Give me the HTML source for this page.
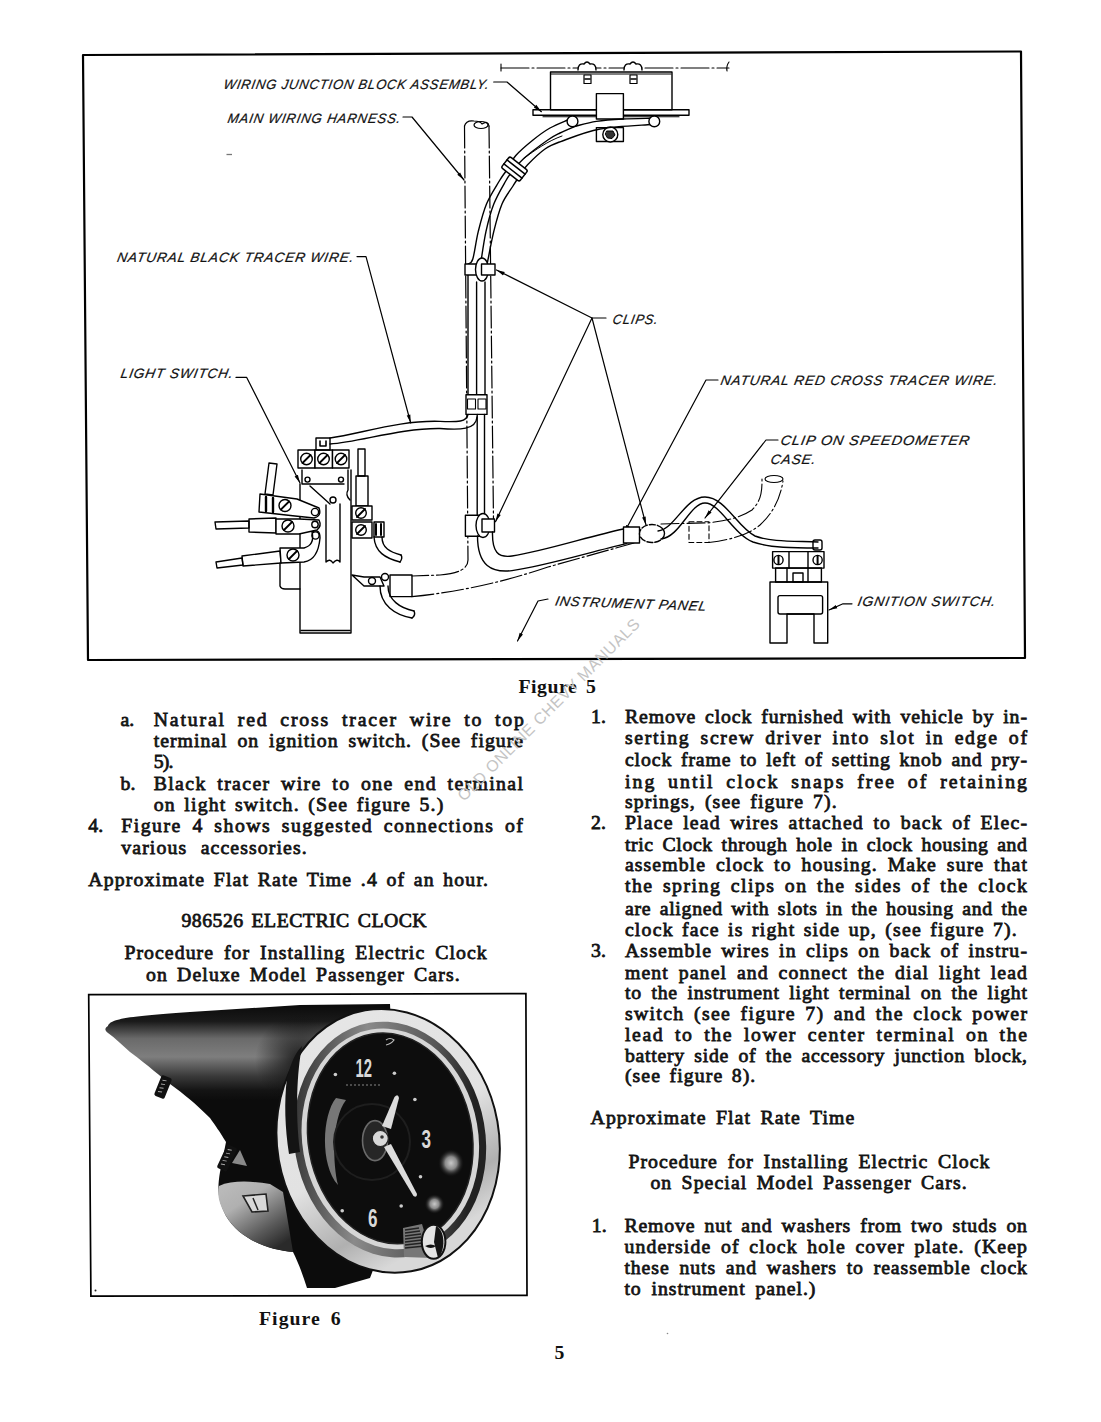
<!DOCTYPE html>
<html><head><meta charset="utf-8"><style>
html,body{margin:0;padding:0;background:#fff;}
body{width:1101px;height:1422px;overflow:hidden;}
svg{display:block;}
.t{font-family:"Liberation Serif",serif;font-weight:normal;font-size:19px;fill:#141414;stroke:#141414;stroke-width:0.75px;}
.tb{font-family:"Liberation Serif",serif;font-weight:bold;font-size:19px;fill:#111;}
.lb{font-family:"Liberation Sans",sans-serif;font-style:italic;font-size:13.5px;fill:#111;stroke:#111;stroke-width:0.2px;letter-spacing:0.8px;}
.wm{font-family:"Liberation Sans",sans-serif;font-size:16px;fill:#c4c4c4;}
</style></head><body>
<svg width="1101" height="1422" viewBox="0 0 1101 1422">
<rect width="1101" height="1422" fill="#fff"/>
<defs>
<marker id="ar" viewBox="0 0 10 6" refX="10" refY="3" markerWidth="9" markerHeight="5" orient="auto" markerUnits="userSpaceOnUse"><path d="M0,0.8 L10,3 L0,5.2 z" fill="#000"/></marker>
</defs>
<g fill="none" stroke="#000" stroke-linecap="round" stroke-linejoin="round">
<!-- frame -->
<polygon points="83,55 1021,51.5 1025,658 88,660" stroke-width="2.2"/>

<!-- leaders -->
<g stroke-width="1.2">
<path d="M493.7,82 H507 L541.4,111.7" marker-end="url(#ar)"/>
<path d="M403,117 H412 L464,180" marker-end="url(#ar)"/>
<path d="M357,256.6 H366 L410.7,423" marker-end="url(#ar)"/>
<path d="M236,377.4 H246.7 L300,483" marker-end="url(#ar)"/>
<path d="M606,318 H592 L496.5,270" marker-end="url(#ar)"/>
<path d="M592,318 L495.5,521.7" marker-end="url(#ar)"/>
<path d="M592,318 L646,525" marker-end="url(#ar)"/>
<path d="M718,380 H706 L624,533" marker-end="url(#ar)"/>
<path d="M778,440 H766 L705,518" marker-end="url(#ar)"/>
<path d="M548,599 L538,601 L517.5,641" marker-end="url(#ar)"/>
<path d="M852,603.8 H843 L829,610" marker-end="url(#ar)"/>
</g>

<!-- junction block assembly -->
<g stroke-width="1.4">
<path d="M501,68 H729" stroke-dasharray="28,3,2,3" stroke-width="1.1"/>
<path d="M501,64 V71" stroke-width="1.1"/>
<path d="M729,62 Q726,66 727,71" stroke-width="1.1"/>
<rect x="550.5" y="72" width="121.5" height="37.8"/>
<path d="M551,74 H671" stroke-width="1.1"/>
<rect x="533" y="109.8" width="156" height="5.4"/>
<path d="M543,116.8 H679" stroke-width="1.1"/>
<path d="M578,70 Q578,63 584,64 Q587,60 590,64 Q596,63 596,70" fill="#fff"/>
<path d="M624,70 Q624,63 630,64 Q633,60 636,64 Q642,63 642,70" fill="#fff"/>
<rect x="584" y="75" width="7" height="8.5" stroke-width="1.2"/>
<path d="M585,79 H590" stroke-width="1.6"/>
<rect x="630" y="75" width="7" height="8.5" stroke-width="1.2"/>
<path d="M631,79 H636" stroke-width="1.6"/>
<rect x="596.4" y="93.6" width="27" height="25.4" fill="#fff"/>
<rect x="596.4" y="127.6" width="27" height="13.9"/>
<circle cx="610.3" cy="134.5" r="7.5" fill="#fff"/>
<path d="M607,131 L613,131 L615,135 L612,138.5 L607.5,138 L605.5,134.5 Z" fill="#333" stroke-width="1"/>
</g>
<!-- main harness phantom -->
<g stroke-width="1.2" stroke-dasharray="22,3,2,3">
<path d="M464.5,126 L468,560 Q468,573 440,575 L412,576"/>
<path d="M489,126 L493.5,521"/>
<path d="M412,596.6 Q480,590 548,567 L634,543"/>
</g>
<path d="M464.5,126 Q466,120 474,121 Q480,121 482,124 Q488,120 489,126" stroke-width="1.2"/>
<ellipse cx="481" cy="125" rx="7" ry="3.5" stroke-width="1.2"/>

<!-- wire bundle upper arc -->
<g stroke-width="1.4">
<path d="M468.0,264.0 C468.8,263.2 471.1,264.4 472.8,259.0 C474.5,253.6 476.0,240.6 478.3,231.4 C480.6,222.2 483.0,212.4 486.5,204.0 C490.0,195.6 496.1,186.5 499.3,181.0 C502.6,175.5 503.2,175.2 506.0,171.0 C508.8,166.8 511.3,160.7 515.8,155.5 C520.3,150.3 527.3,144.6 533.0,140.0 C538.7,135.4 544.2,131.3 550.0,128.0 C555.8,124.7 564.6,121.3 567.5,120.0"/>
<path d="M480.6,264.0 C481.5,258.6 483.8,241.4 486.0,231.4 C488.2,221.4 490.5,212.4 493.8,204.0 C497.1,195.6 502.7,186.3 505.7,181.0 C508.7,175.7 508.9,175.8 512.0,172.0 C515.0,168.2 518.0,163.6 524.0,158.3 C530.0,153.0 541.8,144.2 547.8,140.0 C553.8,135.8 555.3,135.3 560.0,133.0 C564.7,130.7 573.3,127.2 576.0,126.0"/>
<path d="M487.4,262.5 C488.5,257.3 491.4,241.2 493.8,231.4 C496.2,221.7 498.8,211.6 502.0,204.0 C505.2,196.4 510.0,190.8 513.0,186.0 C516.0,181.2 517.6,178.6 520.0,175.0 C522.4,171.4 523.4,169.0 527.6,164.7 C531.8,160.4 539.6,152.8 545.0,149.0 C550.4,145.2 550.8,145.1 560.0,141.8 C569.2,138.5 584.8,131.9 600.0,129.0 C615.2,126.1 642.5,125.2 651.0,124.5"/>
<path d="M576.3,126.0 C579.6,125.2 588.7,122.6 596.4,121.4 C604.1,120.2 613.6,119.5 622.6,119.0 C631.6,118.5 645.8,118.4 650.4,118.3"/>
<path d="M524,158.3 C535,150 548,141 562,136" stroke-width="1"/>
<circle cx="572.5" cy="121.4" r="5.4" fill="#fff"/>
<circle cx="654.3" cy="121.4" r="5.4" fill="#fff"/>
<g transform="translate(514.5,169) rotate(-52)">
<rect x="-7" y="-11.5" width="14" height="23" rx="2" fill="#fff" stroke-width="1.5"/>
<path d="M-2.5,-11.5 V11.5 M2.5,-11.5 V11.5" stroke-width="1.5"/>
</g>
<!-- vertical wires between clips -->
<path d="M468,275 V395 M476.6,282 V395 M485,282 V395"/>
<!-- clip1 -->
<rect x="465" y="264" width="17" height="11" fill="#fff"/>
<ellipse cx="482" cy="269.5" rx="6.5" ry="11.5" fill="#fff"/>
<rect x="481.5" y="264" width="13.5" height="11" fill="#fff"/>
<!-- clip2 -->
<rect x="466" y="394.7" width="21" height="19.7" fill="#fff"/>
<rect x="467.5" y="399" width="8" height="10" stroke-width="1.1"/>
<rect x="478" y="399" width="8" height="10" stroke-width="1.1"/>
<!-- black tracer wire to light switch -->
<path d="M468,414.4 C467,422 458,422 440,421.4 C400,420 360,434 330,438"/>
<path d="M477,417 C476,430 460,430 440,428.5 C400,428 360,442 330,444"/>
<!-- lower vertical -->
<path d="M477.2,414.4 V515 M484.5,414.4 V515"/>
<!-- lower clip -->
<rect x="465.4" y="515.3" width="17" height="21" fill="#fff"/>
<ellipse cx="483" cy="525.5" rx="7" ry="12" fill="#fff"/>
<rect x="482" y="519" width="12.5" height="13" fill="#fff"/>
<!-- lower bend to right -->
<path d="M477.5,536 C477.5,566 492,573 512,570.6 C545,566 590,552 626.5,543.6"/>
<path d="M492.5,532 C492,552 498,558 512,556 C545,551 590,536 623.4,529"/>
<!-- clip at 640 -->
<rect x="623.5" y="527" width="16" height="16" fill="#fff"/>
<ellipse cx="652" cy="533.5" rx="12.5" ry="9" fill="#fff" stroke-dasharray="6,2"/>
<!-- single wire loop to ignition switch -->
<path d="M658,531 C675,529 685,497 705,497 C725,497 738,528 755,536 C770,542 795,541 818,542"/>
<path d="M661,539 C680,537 690,503 705,503 C720,503 733,534 753,542 C770,548 795,548 818,548"/>
<rect x="813" y="540" width="9" height="10" rx="2"/>
</g>
<!-- clip on speedometer dashed + phantom -->
<g stroke-width="1.1" stroke-dasharray="5,3">
<rect x="689" y="521.7" width="20" height="20.8"/>
</g>
<g stroke-width="1.1" stroke-dasharray="18,3,2,3">
<path d="M661,524 L709,522.8 C725,521 740,518 752,510 C762,500 762,490 762,479"/>
<path d="M709,542.5 C730,540 748,535 760,525 C772,514 780,500 783,481"/>
</g>
<ellipse cx="774" cy="479" rx="9" ry="3.5" stroke-width="1.1"/>

<!-- ignition switch -->
<g stroke-width="1.4">
<rect x="772.6" y="551.6" width="51.4" height="16.5"/>
<path d="M789,551.6 V568 M808,551.6 V568"/>
<circle cx="778.5" cy="560" r="4.6"/><path d="M778.5,556 V564" stroke-width="2"/>
<circle cx="817.6" cy="560" r="4.6"/><path d="M817.6,556 V564" stroke-width="2"/>
<rect x="775.6" y="568" width="45.8" height="14"/>
<path d="M787,568 V582 M808,568 V582 M793,573 H803 V582 H793 z"/>
<path d="M770,643 V582 H827.7 V643 H814 V614 H787 V643 z"/>
<rect x="778" y="595.6" width="44.6" height="18.4" rx="2"/>
</g>

<!-- light switch -->
<g stroke-width="1.4">
<path d="M300,484 V633 H351 V470"/>
<path d="M301,630.5 H350"/>
<rect x="298" y="450" width="17" height="18" fill="#fff"/>
<rect x="315" y="450" width="17.5" height="18" fill="#fff"/>
<rect x="332.5" y="450" width="16.5" height="18" fill="#fff"/>
<circle cx="306.5" cy="459" r="5.8"/><path d="M302.5,463 L310.5,455" stroke-width="1.8"/>
<circle cx="323.5" cy="459" r="5.8"/><path d="M319.5,463 L327.5,455" stroke-width="1.8"/>
<circle cx="341" cy="459" r="5.8"/><path d="M337,463 L345,455" stroke-width="1.8"/>
<rect x="316" y="438" width="14" height="12"/>
<path d="M320,441 V446 H326 V441" stroke-width="1.6"/>
<path d="M302,484 H344 M302,470 V484 M348,470 V490 Q345,495 350,500"/>
<circle cx="307.5" cy="479.6" r="2.5"/>
<circle cx="341" cy="479.6" r="2.5"/>
<path d="M310,486 L330,504"/>
<circle cx="333" cy="500" r="3"/>
<path d="M326,505 V562 Q330,558 333,563 Q337,558 340,562 V504"/>
<!-- left rod + clamp 1 -->
<path d="M269,463 L277,464 L273,495 L265,494 z"/>
<path d="M260,494 L297,499 L319,508 Q322,516 314,518 L295,516 L259,512 z" fill="#fff"/>
<path d="M266,497 V511 M273,498 V512" stroke-width="2.4"/>
<circle cx="285" cy="505.5" r="6"/><path d="M281,509.5 L289,501.5" stroke-width="1.8"/>
<circle cx="315" cy="512" r="3.6"/>
<!-- middle wire -->
<path d="M215,522 L249,521 L249,528 L216,529 z"/>
<path d="M249,519 L276,518 L276,533 L249,532 z"/>
<path d="M276,519 H299 L319,520 Q322,526 317,530 L299,534 H276 z" fill="#fff"/>
<circle cx="288" cy="526" r="6"/><path d="M284,530 L292,522" stroke-width="1.8"/>
<circle cx="315" cy="524.5" r="3.2"/>
<!-- lower wire -->
<path d="M216,562 L242,558 L243,565 L217,568 z"/>
<path d="M242,556 L280,551 L281,563 L243,566 z"/>
<path d="M280,548 L304,548 Q315,545 312,532 Q320,528 320,538 Q318,560 304,562 L281,563 z" fill="#fff"/>
<circle cx="293" cy="555" r="6"/><path d="M289,559 L297,551" stroke-width="1.8"/>
<circle cx="315.5" cy="535.5" r="3.6"/>
<path d="M280,563 V586 Q281,589 285,589 H300"/>
<!-- right rod -->
<rect x="358" y="449" width="7" height="27"/>
<rect x="356" y="476" width="12" height="30"/>
<rect x="352" y="506" width="20" height="14" fill="#fff"/>
<circle cx="361" cy="513" r="5.3"/><path d="M357,517 L365,509" stroke-width="1.8"/>
<rect x="352" y="522" width="20" height="16" fill="#fff"/>
<circle cx="361" cy="530" r="5.3"/><path d="M357,534 L365,526" stroke-width="1.8"/>
<rect x="374" y="522" width="10" height="15"/>
<path d="M376,524 V535 M381,524 V535" stroke-width="2"/>
<path d="M374,537 C375,552 385,558 400,562 M382,537 C382,548 390,552 401,555"/>
<path d="M400,562 Q403,558 401,555"/>
<!-- lower right connector -->
<path d="M352,575 L364,577 H380 L384,586 H364 Z"/>
<circle cx="372" cy="581" r="3.5"/>
<circle cx="385" cy="577" r="3.5"/>
<rect x="390" y="575" width="22" height="21.6"/>
<path d="M380,586 C380,605 395,615 412,618 M388,586 C388,600 400,608 414,611"/>
<path d="M412,618 Q416,615 414,611"/>
</g>
</g>

<!-- labels -->
<g class="lb">
<text transform="translate(223,89) skewX(-10)" x="0" y="0" textLength="266" lengthAdjust="spacingAndGlyphs">WIRING JUNCTION BLOCK ASSEMBLY.</text>
<text transform="translate(227,122.5) skewX(-10)" x="0" y="0" textLength="173.6" lengthAdjust="spacingAndGlyphs">MAIN WIRING HARNESS.</text>
<text transform="translate(116.6,262.4) skewX(-10)" x="0" y="0" textLength="237" lengthAdjust="spacingAndGlyphs">NATURAL BLACK TRACER WIRE.</text>
<text transform="translate(120,378) skewX(-10)" x="0" y="0" textLength="113" lengthAdjust="spacingAndGlyphs">LIGHT SWITCH.</text>
<text transform="translate(612,324) skewX(-10)" x="0" y="0" textLength="46" lengthAdjust="spacingAndGlyphs">CLIPS.</text>
<text transform="translate(720,384.7) skewX(-10)" x="0" y="0" textLength="277.7" lengthAdjust="spacingAndGlyphs">NATURAL RED CROSS TRACER WIRE.</text>
<text transform="translate(780,444.7) skewX(-10)" x="0" y="0" textLength="189.7" lengthAdjust="spacingAndGlyphs">CLIP ON SPEEDOMETER</text>
<text transform="translate(770,463.9) skewX(-10)" x="0" y="0" textLength="45.8" lengthAdjust="spacingAndGlyphs">CASE.</text>
<text transform="translate(554.4,605.5) rotate(2) skewX(-10)" x="0" y="0" textLength="152" lengthAdjust="spacingAndGlyphs">INSTRUMENT PANEL</text>
<text transform="translate(857,606.3) skewX(-10)" x="0" y="0" textLength="138.6" lengthAdjust="spacingAndGlyphs">IGNITION SWITCH.</text>
</g>
<path d="M226.5,154.5 H232" stroke="#777" stroke-width="1.3" fill="none"/>
<circle cx="667.5" cy="1333.5" r="0.8" fill="#888"/>
<circle cx="95.5" cy="1290.5" r="1" fill="#222"/>

<defs>
<linearGradient id="shellg" gradientUnits="userSpaceOnUse" x1="0" y1="1004" x2="0" y2="1100">
<stop offset="0" stop-color="#0a0a0a"/>
<stop offset="0.18" stop-color="#1a1a1a"/>
<stop offset="0.36" stop-color="#6a6a6a"/>
<stop offset="0.55" stop-color="#7e7e7e"/>
<stop offset="0.75" stop-color="#3a3a3a"/>
<stop offset="0.9" stop-color="#141414"/>
<stop offset="1" stop-color="#0c0c0c"/>
</linearGradient>
<radialGradient id="shellshade" gradientUnits="userSpaceOnUse" cx="300" cy="1060" r="45">
<stop offset="0" stop-color="#0c0c0c" stop-opacity="0.85"/>
<stop offset="1" stop-color="#0c0c0c" stop-opacity="0"/>
</radialGradient>
<linearGradient id="brg" x1="0" y1="0" x2="0.7" y2="1">
<stop offset="0" stop-color="#bdbdbd"/>
<stop offset="0.35" stop-color="#b0b0b0"/>
<stop offset="0.75" stop-color="#5a5a5a"/>
<stop offset="1" stop-color="#2a2a2a"/>
</linearGradient>
<radialGradient id="knobg" cx="0.6" cy="0.45" r="0.6">
<stop offset="0" stop-color="#fff"/>
<stop offset="0.5" stop-color="#cfcfcf"/>
<stop offset="1" stop-color="#444"/>
</radialGradient>
<radialGradient id="spotg" cx="0.5" cy="0.5" r="0.5">
<stop offset="0" stop-color="#c8c8c8"/>
<stop offset="0.45" stop-color="#8a8a8a"/>
<stop offset="1" stop-color="#111" stop-opacity="0"/>
</radialGradient>
<linearGradient id="ringA" x1="0" y1="0" x2="0.3" y2="1">
<stop offset="0" stop-color="#e6e6e6"/>
<stop offset="0.6" stop-color="#e2e2e2"/>
<stop offset="0.85" stop-color="#b0b0b0"/>
<stop offset="1" stop-color="#d8d8d8"/>
</linearGradient>
<linearGradient id="ringB" x1="0" y1="0" x2="1" y2="0.3">
<stop offset="0" stop-color="#1a1a1a"/>
<stop offset="0.45" stop-color="#8a8a8a"/>
<stop offset="0.8" stop-color="#555"/>
<stop offset="1" stop-color="#222"/>
</linearGradient>
</defs>
<!-- frame -->
<polygon points="88.7,994.7 525.9,993.6 527,1295.3 90.9,1296.1" fill="none" stroke="#000" stroke-width="1.7"/>
<!-- shell -->
<path d="M108,1026 C110,1018 135,1016 190,1012 L300,1005 L390,1004 L400,1200 L370,1278 L335,1288 L307,1288 C303,1275 298,1262 293,1252 C270,1250 240,1240 226,1216 C218,1200 217,1190 220,1172 L226,1142 C220,1132 215,1125 210,1118 C195,1103 185,1095 170,1084 C160,1076 150,1067 130,1052 C122,1045 115,1038 108,1033 C104,1030 105,1028 108,1026 Z" fill="url(#shellg)"/>
<ellipse cx="300" cy="1060" rx="45" ry="60" fill="url(#shellshade)"/>
<!-- bracket -->
<path d="M219,1186 C232,1180 252,1181 270,1184 L283,1192 L293,1252 C270,1250 240,1240 226,1216 C219,1204 217,1195 219,1186 Z" fill="url(#brg)"/>
<path d="M243,1196 L266,1194 L268,1211 L252,1212 Z" fill="#d8d8d8" stroke="#222" stroke-width="1.6"/>
<path d="M253,1198 L258,1210" stroke="#222" stroke-width="1.5"/>
<path d="M232,1163 L240,1150 L247,1166 Z" fill="#8a8a8a"/>
<!-- studs -->
<g transform="translate(163,1087) rotate(22)"><rect x="-5.5" y="-11" width="11" height="22" rx="2" fill="#111"/><path d="M-3,-6 l4,-1 M-3,-2 l4,-1 M-3,2 l4,-1 M-3,6 l4,-1" stroke="#aaa" stroke-width="0.9"/></g>
<g transform="translate(227,1158) rotate(25)"><rect x="-5.5" y="-13" width="11" height="26" rx="2" fill="#111"/><path d="M-3,-8 l4,-1 M-3,-4 l4,-1 M-3,0 l4,-1 M-3,4 l4,-1 M-3,8 l4,-1" stroke="#aaa" stroke-width="0.9"/></g>
<!-- ring -->
<g transform="rotate(-10 390 1140)">
<ellipse cx="388" cy="1140.5" rx="111" ry="132.5" fill="url(#ringA)" stroke="#111" stroke-width="2"/>
<ellipse cx="390" cy="1139.5" rx="95.5" ry="118.5" fill="url(#ringB)"/>
<ellipse cx="390.5" cy="1139" rx="88" ry="111" fill="#d6d6d6"/>
<ellipse cx="390.5" cy="1138.5" rx="82" ry="106" fill="#0d0d0d" stroke="#222" stroke-width="1.5"/>
</g>
<path d="M287,1078 C291,1062 296,1052 302,1046 C297,1072 295,1112 300,1152 L289,1154 C285,1128 284,1102 287,1078 Z" fill="#141414"/>
<!-- face details -->
<path d="M336,1098 C322,1115 320,1165 338,1185 C333,1165 331,1120 346,1100 Z" fill="#777"/>
<circle cx="372" cy="1142" r="38" fill="none" stroke="#1e1e1e" stroke-width="2"/>
<ellipse cx="451" cy="1163" rx="13" ry="14" fill="url(#spotg)"/>
<ellipse cx="434.5" cy="1204" rx="10" ry="10" fill="url(#spotg)"/>
<g fill="#d8d8d8" font-family="Liberation Sans, sans-serif" font-weight="bold">
<text x="355.5" y="1077" font-size="26" textLength="16.5" lengthAdjust="spacingAndGlyphs">12</text>
<text x="421.5" y="1147.5" font-size="25" textLength="9.5" lengthAdjust="spacingAndGlyphs">3</text>
<text x="368" y="1226.5" font-size="25" textLength="9.5" lengthAdjust="spacingAndGlyphs">6</text>
</g>
<g fill="#ccc">
<circle cx="335.4" cy="1074.5" r="1.8"/><circle cx="394.4" cy="1073.3" r="1.8"/>
<circle cx="414.9" cy="1099.5" r="1.8"/><circle cx="420.5" cy="1176.7" r="1.8"/>
<circle cx="401.2" cy="1206" r="1.8"/><circle cx="342.2" cy="1210.7" r="1.8"/>
</g>
<path d="M346,1085 H380" stroke="#888" stroke-width="1.2" stroke-dasharray="2,2"/>
<path d="M386,1040 q4,-3 8,0 q-3,4 -8,5" fill="none" stroke="#bbb" stroke-width="1.2"/>
<!-- hub & hands -->
<ellipse cx="375" cy="1140.6" rx="12.5" ry="20" fill="#262626" stroke="#6a6a6a" stroke-width="1.6"/>
<path d="M382,1126 L394.5,1097 Q398,1093 399,1098 L391,1129 Z" fill="#dcdcdc"/>
<path d="M384,1147 L391,1144 L417,1194 Q417,1198 413.5,1196 Z" fill="#dcdcdc"/>
<circle cx="380.3" cy="1138.5" r="8" fill="#d8d8d8" stroke="#222" stroke-width="1.2"/>
<circle cx="382" cy="1137" r="1.8" fill="#333"/>
<!-- knob -->
<path d="M403,1228 L422,1224 L432,1258 L404,1257 Z" fill="#777"/>
<path d="M405,1230 l14,-2 m-14,5 l15,-2 m-15,5 l16,-2 m-16,5 l16,-2 m-16,5 l17,-2 m-17,5 l18,-2 m-18,5 l20,-2" stroke="#222" stroke-width="1.3"/>
<ellipse cx="433.6" cy="1241.8" rx="11.8" ry="17" fill="#e4e4e4" stroke="#111" stroke-width="2"/>
<path d="M436,1226 C445,1230 446,1250 438,1258 L434,1242 Z" fill="#141414"/>
<path d="M425,1246 Q431,1243 436,1246 Q431,1250 425,1246 Z" fill="#111"/>

<text transform="translate(518.4,692.9) scale(1.04,1)" class="tb" style="word-spacing:2.89px" textLength="74.4" lengthAdjust="spacing">Figure 5</text>
<text transform="translate(120.6,725.5) scale(1.04,1)" class="t">a.</text>
<text transform="translate(153.7,725.5) scale(1.04,1)" class="t" style="word-spacing:4.78px" textLength="356.0" lengthAdjust="spacing">Natural red cross tracer wire to top</text>
<text transform="translate(153.7,746.5) scale(1.04,1)" class="t" style="word-spacing:3.81px" textLength="355.1" lengthAdjust="spacing">terminal on ignition switch. (See figure</text>
<text transform="translate(153.7,768.0) scale(1.04,1)" class="t" textLength="19.0" lengthAdjust="spacing">5).</text>
<text transform="translate(120.6,790.0) scale(1.04,1)" class="t">b.</text>
<text transform="translate(153.7,790.0) scale(1.04,1)" class="t" style="word-spacing:4.13px" textLength="355.1" lengthAdjust="spacing">Black tracer wire to one end terminal</text>
<text transform="translate(153.7,810.7) scale(1.04,1)" class="t" style="word-spacing:2.33px" textLength="278.4" lengthAdjust="spacing">on light switch. (See figure 5.)</text>
<text transform="translate(88.3,831.5) scale(1.04,1)" class="t">4.</text>
<text transform="translate(121.3,831.5) scale(1.04,1)" class="t" style="word-spacing:3.99px" textLength="386.2" lengthAdjust="spacing">Figure 4 shows suggested connections of</text>
<text transform="translate(121.3,853.7) scale(1.04,1)" class="t" style="word-spacing:7.16px" textLength="178.3" lengthAdjust="spacing">various accessories.</text>
<text transform="translate(88.3,886.3) scale(1.04,1)" class="t" style="word-spacing:2.36px" textLength="384.3" lengthAdjust="spacing">Approximate Flat Rate Time .4 of an hour.</text>
<text transform="translate(181.5,926.9) scale(1.04,1)" class="t" style="word-spacing:2.45px" textLength="235.7" lengthAdjust="spacing">986526 ELECTRIC CLOCK</text>
<text transform="translate(124.4,958.7) scale(1.04,1)" class="t" style="word-spacing:3.73px" textLength="348.3" lengthAdjust="spacing">Procedure for Installing Electric Clock</text>
<text transform="translate(146.0,980.7) scale(1.04,1)" class="t" style="word-spacing:2.90px" textLength="301.6" lengthAdjust="spacing">on Deluxe Model Passenger Cars.</text>
<text transform="translate(591.0,723.1) scale(1.04,1)" class="t">1.</text>
<text transform="translate(624.9,723.1) scale(1.04,1)" class="t" style="word-spacing:3.02px" textLength="386.6" lengthAdjust="spacing">Remove clock furnished with vehicle by in-</text>
<text transform="translate(624.9,744.4) scale(1.04,1)" class="t" style="word-spacing:3.52px" textLength="386.6" lengthAdjust="spacing">serting screw driver into slot in edge of</text>
<text transform="translate(624.9,766.1) scale(1.04,1)" class="t" style="word-spacing:2.81px" textLength="386.6" lengthAdjust="spacing">clock frame to left of setting knob and pry-</text>
<text transform="translate(624.9,787.8) scale(1.04,1)" class="t" style="word-spacing:4.50px" textLength="386.6" lengthAdjust="spacing">ing until clock snaps free of retaining</text>
<text transform="translate(624.9,808.1) scale(1.04,1)" class="t" style="word-spacing:2.83px" textLength="203.7" lengthAdjust="spacing">springs, (see figure 7).</text>
<text transform="translate(591.0,829.4) scale(1.04,1)" class="t">2.</text>
<text transform="translate(624.9,829.4) scale(1.04,1)" class="t" style="word-spacing:3.23px" textLength="386.6" lengthAdjust="spacing">Place lead wires attached to back of Elec-</text>
<text transform="translate(624.9,850.6) scale(1.04,1)" class="t" style="word-spacing:3.01px" textLength="386.6" lengthAdjust="spacing">tric Clock through hole in clock housing and</text>
<text transform="translate(624.9,871.2) scale(1.04,1)" class="t" style="word-spacing:3.73px" textLength="386.6" lengthAdjust="spacing">assemble clock to housing. Make sure that</text>
<text transform="translate(624.9,892.4) scale(1.04,1)" class="t" style="word-spacing:2.83px" textLength="386.6" lengthAdjust="spacing">the spring clips on the sides of the clock</text>
<text transform="translate(624.9,914.8) scale(1.04,1)" class="t" style="word-spacing:2.73px" textLength="386.6" lengthAdjust="spacing">are aligned with slots in the housing and the</text>
<text transform="translate(624.9,936.0) scale(1.04,1)" class="t" style="word-spacing:2.09px" textLength="376.8" lengthAdjust="spacing">clock face is right side up, (see figure 7).</text>
<text transform="translate(591.0,957.3) scale(1.04,1)" class="t">3.</text>
<text transform="translate(624.9,957.3) scale(1.04,1)" class="t" style="word-spacing:2.96px" textLength="386.6" lengthAdjust="spacing">Assemble wires in clips on back of instru-</text>
<text transform="translate(624.9,978.5) scale(1.04,1)" class="t" style="word-spacing:3.55px" textLength="386.6" lengthAdjust="spacing">ment panel and connect the dial light lead</text>
<text transform="translate(624.9,999.1) scale(1.04,1)" class="t" style="word-spacing:3.68px" textLength="386.6" lengthAdjust="spacing">to the instrument light terminal on the light</text>
<text transform="translate(624.9,1020.3) scale(1.04,1)" class="t" style="word-spacing:3.01px" textLength="386.6" lengthAdjust="spacing">switch (see figure 7) and the clock power</text>
<text transform="translate(624.9,1041.1) scale(1.04,1)" class="t" style="word-spacing:3.91px" textLength="386.6" lengthAdjust="spacing">lead to the lower center terminal on the</text>
<text transform="translate(624.9,1061.9) scale(1.04,1)" class="t" style="word-spacing:3.57px" textLength="386.6" lengthAdjust="spacing">battery side of the accessory junction block,</text>
<text transform="translate(624.9,1082.4) scale(1.04,1)" class="t" style="word-spacing:2.38px" textLength="125.4" lengthAdjust="spacing">(see figure 8).</text>
<text transform="translate(590.6,1124.2) scale(1.04,1)" class="t" style="word-spacing:3.35px" textLength="253.5" lengthAdjust="spacing">Approximate Flat Rate Time</text>
<text transform="translate(628.4,1167.9) scale(1.04,1)" class="t" style="word-spacing:3.63px" textLength="347.1" lengthAdjust="spacing">Procedure for Installing Electric Clock</text>
<text transform="translate(650.4,1188.7) scale(1.04,1)" class="t" style="word-spacing:3.01px" textLength="304.1" lengthAdjust="spacing">on Special Model Passenger Cars.</text>
<text transform="translate(591.8,1232.1) scale(1.04,1)" class="t">1.</text>
<text transform="translate(624.4,1232.1) scale(1.04,1)" class="t" style="word-spacing:3.16px" textLength="387.1" lengthAdjust="spacing">Remove nut and washers from two studs on</text>
<text transform="translate(624.4,1252.9) scale(1.04,1)" class="t" style="word-spacing:3.41px" textLength="387.1" lengthAdjust="spacing">underside of clock hole cover plate. (Keep</text>
<text transform="translate(624.4,1274.2) scale(1.04,1)" class="t" style="word-spacing:3.70px" textLength="387.1" lengthAdjust="spacing">these nuts and washers to reassemble clock</text>
<text transform="translate(624.4,1295.0) scale(1.04,1)" class="t" style="word-spacing:3.74px" textLength="183.7" lengthAdjust="spacing">to instrument panel.)</text>
<text transform="translate(259.0,1324.5) scale(1.04,1)" class="tb" style="word-spacing:3.83px" textLength="78.6" lengthAdjust="spacing">Figure 6</text>
<text transform="translate(554.6,1358.9) scale(1.04,1)" class="tb">5</text>
<text class="wm" transform="translate(464,802) rotate(-45)" textLength="250" lengthAdjust="spacing">OLD ONLINE CHEVY MANUALS</text>
</svg>
</body></html>
